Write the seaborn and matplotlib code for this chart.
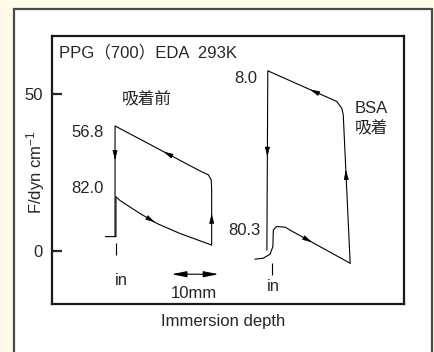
import numpy as np
import matplotlib
matplotlib.use("Agg")
import matplotlib.pyplot as plt
from matplotlib.patches import Rectangle
import seaborn as sns

# datos: x en mm, y en dyn/cm
antes_av_x = [11.6, 13.9, 13.9, 14.8, 19.1, 22.8, 27.8, 34.7]
antes_av_y = [4.6, 4.6, 17.3, 16.1, 12.0, 8.8, 5.6, 1.9]
antes_re_x = [34.7, 34.7, 34.6, 34.0, 32.5, 13.7, 13.7]
antes_re_y = [1.9, 19.5, 22.7, 24.3, 25.3, 39.9, 4.6]

bsa_av_x = [44.1, 45.9, 47.4, 48.0, 48.1, 48.8, 50.7, 51.7, 64.8]
bsa_av_y = [-2.6, -2.3, -1.0, 1.4, 6.7, 7.8, 7.6, 6.7, -3.9]
bsa_re_x = [64.8, 63.3, 63.0, 61.9, 46.9, 46.7]
bsa_re_y = [-3.9, 43.4, 45.5, 47.7, 57.5, 0.3]

# angulos de contacto
angulos = ["56.8", "82.0", "8.0", "80.3"]
y_ticks = [0, 50]

sns.set_style("white")
plt.rcParams["font.family"] = ["Liberation Sans", "Noto Sans CJK JP", "DejaVu Sans"]
plt.rcParams["mathtext.fontset"] = "custom"
plt.rcParams["mathtext.rm"] = "Liberation Sans"
plt.rcParams["mathtext.it"] = "Liberation Sans"
fs = 12

fig = plt.figure(figsize=(4.35, 3.52), dpi=100, facecolor="#fffbe7")
fig.patches.append(Rectangle((14 / 435, -0.1), 418 / 435, 1.1 - 9 / 352,
                             transform=fig.transFigure, facecolor="white",
                             edgecolor="#4a4a4a", lw=1.6, zorder=-5))
ax = fig.add_axes([52 / 435, 48 / 352, 352 / 435, 268 / 352])
ax.set_facecolor("white")
for s in ax.spines.values():
    s.set_linewidth(1.6)
    s.set_color("#1a1a1a")

for xs, ys in [(antes_av_x, antes_av_y), (antes_re_x, antes_re_y),
               (bsa_av_x, bsa_av_y), (bsa_re_x, bsa_re_y)]:
    sns.lineplot(x=xs, y=ys, sort=False, estimator=None, color="k", lw=0.8, ax=ax)


def flecha(xs, ys, i, t):
    x0, y0, x1, y1 = xs[i], ys[i], xs[i + 1], ys[i + 1]
    hx, hy = x0 + t * (x1 - x0), y0 + t * (y1 - y0)
    bx, by = x0 + (t - 0.05) * (x1 - x0), y0 + (t - 0.05) * (y1 - y0)
    ax.annotate("", xy=(hx, hy), xytext=(bx, by),
                arrowprops=dict(arrowstyle="-|>,head_length=0.6,head_width=0.15",
                                color="k", lw=0.5, shrinkA=0, shrinkB=0,
                                mutation_scale=10))


flecha(antes_av_x, antes_av_y, 4, 0.9)
flecha(antes_re_x, antes_re_y, 0, 0.57)
flecha(antes_re_x, antes_re_y, 4, 0.44)
flecha(antes_re_x, antes_re_y, 5, 0.31)
flecha(bsa_av_x, bsa_av_y, 7, 0.37)
flecha(bsa_re_x, bsa_re_y, 0, 0.63)
flecha(bsa_re_x, bsa_re_y, 3, 0.39)
flecha(bsa_re_x, bsa_re_y, 4, 0.48)

# marcas "in"
ax.vlines([13.9, 47.8], [-1.3, -7.7], [2.5, -3.8], color="k", lw=0.8)
ax.text(15.1, -9.3, "in", fontsize=fs, ha="center", va="center")
ax.text(48.1, -11.4, "in", fontsize=fs, ha="center", va="center")

# escala 10 mm
ax.annotate("", xy=(36.2, -7.4), xytext=(26.0, -7.4),
            arrowprops=dict(arrowstyle="<|-|>,head_length=0.9,head_width=0.18",
                            color="k", lw=0.8, shrinkA=0, shrinkB=0, mutation_scale=10))
ax.text(30.9, -13.5, "10mm", fontsize=fs, ha="center", va="center")

ax.text(11.2, 37.8, angulos[0], fontsize=fs, ha="right", va="center")
ax.text(11.2, 19.8, angulos[1], fontsize=fs, ha="right", va="center")
ax.text(44.6, 54.9, angulos[2], fontsize=fs, ha="right", va="center")
ax.text(45.4, 6.7, angulos[3], fontsize=fs, ha="right", va="center")

ax.text(1.6, 63.4, "PPG（700）EDA  293K", fontsize=fs, ha="left", va="center")
ax.text(20.6, 48.2, "吸着前", fontsize=fs, ha="center", va="center")
ax.text(65.7, 45.5, "BSA", fontsize=fs, ha="left", va="center")
ax.text(65.7, 39.2, "吸着", fontsize=fs, ha="left", va="center")

ax.set_xlim(0, 76.5)
ax.set_ylim(-16.9, 68.6)
ax.set_xticks([])
ax.set_yticks(y_ticks)
ax.set_yticklabels([str(v) for v in y_ticks], fontsize=fs)
ax.tick_params(axis="y", direction="in", length=7, width=1.6, pad=6.5, left=True)
ax.set_xlabel("")
ax.set_ylabel("")
ax.text(-0.047, 0.49, "F/dyn cm$^{-1}$", transform=ax.transAxes, rotation=90,
        fontsize=fs, ha="center", va="center")
ax.text(0.486, -0.067, "Immersion depth", transform=ax.transAxes,
        fontsize=fs, ha="center", va="center")

fig.savefig("out.png", dpi=100, facecolor=fig.get_facecolor())
